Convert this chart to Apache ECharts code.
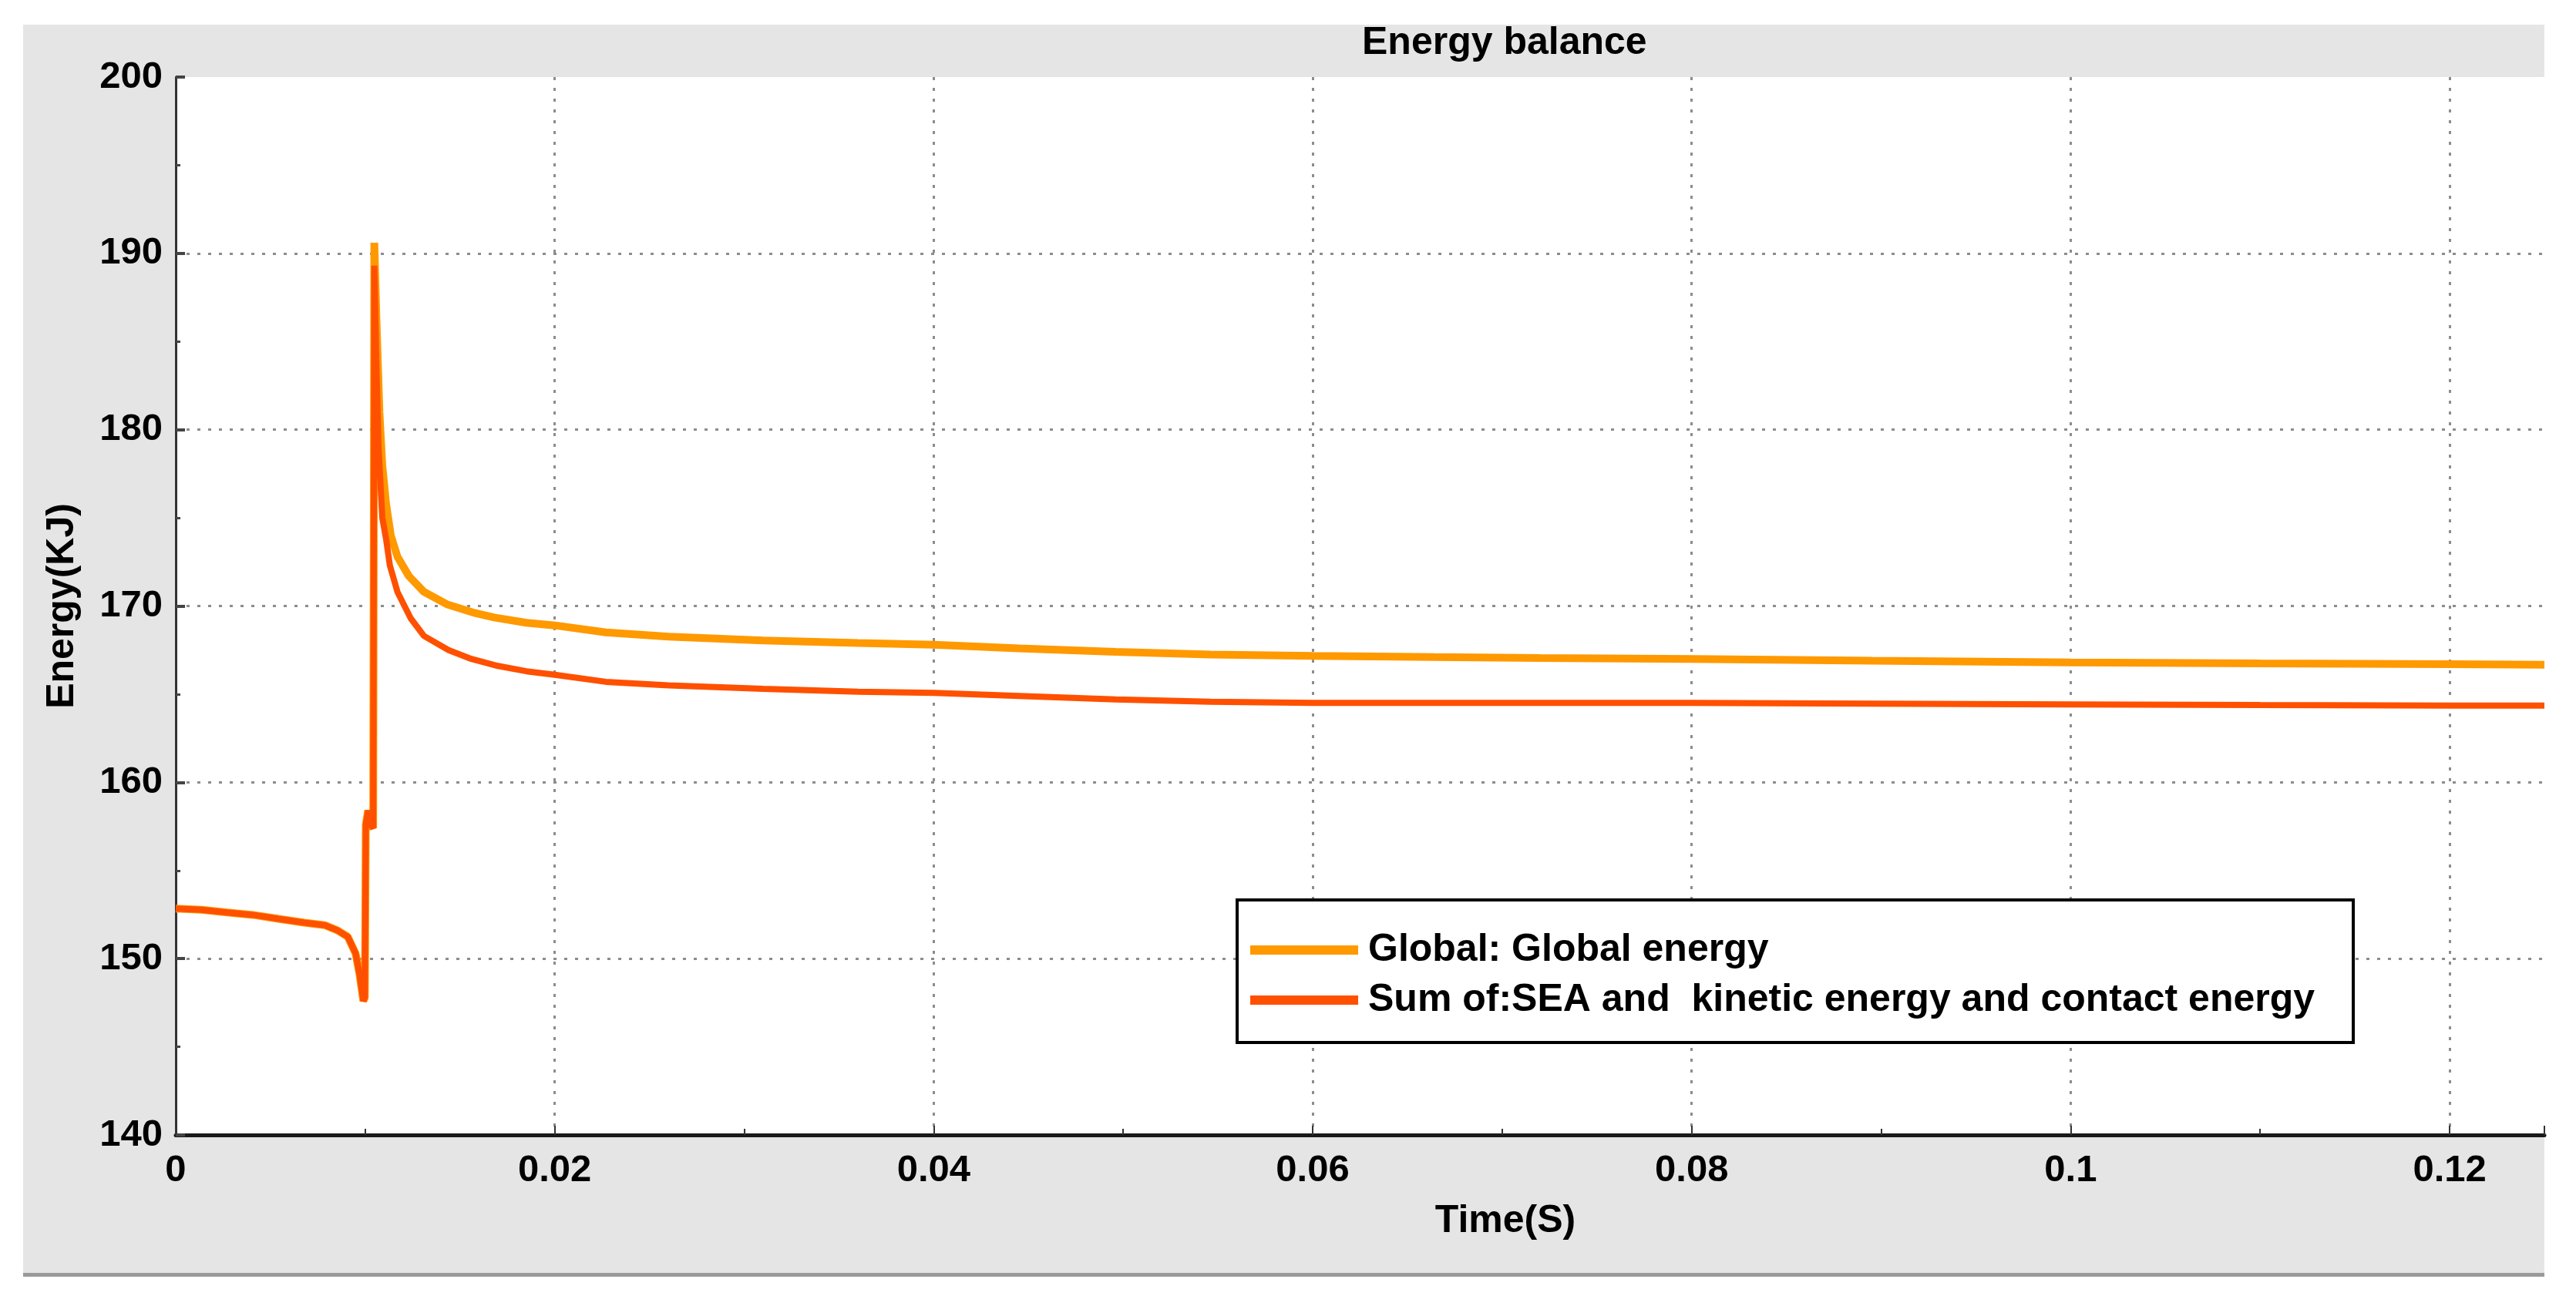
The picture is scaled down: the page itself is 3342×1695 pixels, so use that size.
<!DOCTYPE html>
<html>
<head>
<meta charset="utf-8">
<script src="https://cdn.jsdelivr.net/npm/echarts@6/dist/echarts.min.js"></script>
<style>
html,body{margin:0;padding:0;background:#fff;}
#chart{width:3342px;height:1695px;}
</style>
</head>
<body>
<div id="chart"></div>
<script>
// ---- data ----
var seriesNames = ['Global: Global energy', 'Sum of:SEA and  kinetic energy and contact energy'];

var timeGlobal = [0, 0.00136, 0.00271, 0.00407, 0.00542, 0.00678, 0.00786, 0.00854, 0.00908, 0.00949, 0.0097, 0.0099, 0.00998,
  0.01003, 0.01015, 0.01035, 0.01042, 0.01048, 0.0106, 0.01075, 0.0109, 0.0111, 0.01135, 0.0117, 0.0123, 0.0131, 0.0143,
  0.0158, 0.0168, 0.0185, 0.02, 0.0227, 0.026, 0.031, 0.036, 0.04, 0.0445, 0.0496, 0.0546, 0.06, 0.0664, 0.072, 0.08,
  0.0895, 0.1, 0.11, 0.12, 0.125];
var valGlobal = [152.84, 152.77, 152.62, 152.48, 152.26, 152.04, 151.9, 151.6, 151.24, 150.3, 149.1, 147.6, 147.8,
  157.6, 158.4, 157.5, 157.4, 190.6, 186.0, 181.0, 178.0, 175.8, 174.0, 172.8, 171.7, 170.8, 170.1,
  169.6, 169.35, 169.05, 168.9, 168.5, 168.26, 168.04, 167.9, 167.8, 167.6, 167.4, 167.25, 167.17, 167.1, 167.05, 167.0,
  166.9, 166.8, 166.74, 166.7, 166.67];

var timeSum = [0, 0.00136, 0.00271, 0.00407, 0.00542, 0.00678, 0.00786, 0.00854, 0.00908, 0.00949, 0.0097, 0.0099, 0.00998,
  0.01003, 0.01015, 0.01035, 0.01042, 0.01048, 0.01058, 0.0107, 0.0109, 0.0111, 0.0113, 0.0117, 0.0124, 0.0131, 0.0144,
  0.0156, 0.017, 0.0185, 0.02, 0.0227, 0.026, 0.031, 0.036, 0.04, 0.0445, 0.0496, 0.0546, 0.06, 0.0664, 0.072, 0.08,
  0.0895, 0.1, 0.11, 0.12, 0.125];
var valSum = [152.84, 152.77, 152.62, 152.48, 152.26, 152.04, 151.9, 151.6, 151.24, 150.3, 149.1, 147.6, 147.8,
  157.6, 158.4, 157.5, 157.4, 189.3, 184.0, 179.0, 175.0, 173.8, 172.3, 170.8, 169.3, 168.3, 167.5,
  167.0, 166.6, 166.3, 166.1, 165.7, 165.5, 165.3, 165.14, 165.07, 164.9, 164.7, 164.57, 164.5, 164.5, 164.5, 164.5,
  164.46, 164.42, 164.38, 164.35, 164.35];

var xTicks = { min: 0, max: 0.125, interval: 0.02 };
var yTicks = { min: 140, max: 200, interval: 10 };

function zip(t, v) { return t.map(function (x, i) { return [x, v[i]]; }); }

var FONT = '"Liberation Sans", Arial, sans-serif';
var chart = echarts.init(document.getElementById('chart'));
chart.setOption({
  backgroundColor: '#ffffff',
  animation: false,
  graphic: [
    { type: 'rect', z: -10, silent: true, shape: { x: 30, y: 32, width: 3271, height: 1622 }, style: { fill: '#e5e5e5' } },
    { type: 'rect', z: -9, silent: true, shape: { x: 30, y: 1652, width: 3271, height: 5 }, style: { fill: '#9a9a9a' } }
  ],
  title: {
    text: 'Energy balance',
    left: 1762, top: 26,
    textStyle: { fontFamily: FONT, fontWeight: 'bold', fontSize: 50, color: '#000' }
  },
  grid: { left: 228, top: 100, right: 41, bottom: 222, show: true, backgroundColor: '#ffffff', borderWidth: 0 },
  legend: {
    orient: 'vertical',
    left: 1605, top: 1168,
    backgroundColor: '#ffffff',
    borderColor: '#000000',
    borderWidth: 4,
    padding: [40, 50, 30, 17],
    itemWidth: 140, itemHeight: 12, itemGap: 15,
    icon: 'rect',
    textStyle: { fontFamily: FONT, fontWeight: 'bold', fontSize: 50, color: '#000', padding: [0, 0, 0, 8] },
    data: seriesNames
  },
  xAxis: {
    type: 'value',
    min: xTicks.min, max: xTicks.max, interval: xTicks.interval,
    name: 'Time(S)',
    nameLocation: 'middle',
    nameGap: 87,
    nameTextStyle: { fontFamily: FONT, fontWeight: 'bold', fontSize: 50, color: '#000', padding: [0, 0, 0, 377] },
    axisLine: { show: true, onZero: false, lineStyle: { color: '#1a1a1a', width: 5 } },
    axisTick: { show: true, inside: true, length: 12, lineStyle: { color: '#333', width: 2 } },
    minorTick: { show: true, splitNumber: 2, length: 8, lineStyle: { color: '#333', width: 2 } },
    axisLabel: { margin: 22, showMaxLabel: false, fontFamily: FONT, fontWeight: 'bold', fontSize: 49, color: '#000',
      formatter: function (v) { return String(+v.toFixed(3)); } },
    splitLine: { show: true, showMinLine: false, showMaxLine: false, lineStyle: { color: '#8c8c8c', width: 3, type: [4, 10] } }
  },
  yAxis: {
    type: 'value',
    min: yTicks.min, max: yTicks.max, interval: yTicks.interval,
    name: 'Energy(KJ)',
    nameLocation: 'middle',
    nameGap: 122,
    nameTextStyle: { fontFamily: FONT, fontWeight: 'bold', fontSize: 50, color: '#000' },
    axisLine: { show: true, onZero: false, lineStyle: { color: '#333', width: 3 } },
    axisTick: { show: true, inside: true, length: 12, lineStyle: { color: '#444', width: 4 } },
    minorTick: { show: true, splitNumber: 2, length: 6, lineStyle: { color: '#444', width: 3 } },
    axisLabel: { margin: 17, fontFamily: FONT, fontWeight: 'bold', fontSize: 49, color: '#000' },
    splitLine: { show: true, showMinLine: false, showMaxLine: false, lineStyle: { color: '#8c8c8c', width: 3, type: [4, 10] } }
  },
  series: [
    {
      name: seriesNames[0], type: 'line', data: zip(timeGlobal, valGlobal),
      showSymbol: false, symbol: 'none', smooth: false,
      itemStyle: { color: '#ff9900' },
      lineStyle: { color: '#ff9900', width: 10 }, z: 2
    },
    {
      name: seriesNames[1], type: 'line', data: zip(timeSum, valSum),
      showSymbol: false, symbol: 'none', smooth: false,
      itemStyle: { color: '#ff5000' },
      lineStyle: { color: '#ff5000', width: 8 }, z: 3
    }
  ]
});
</script>
</body>
</html>
